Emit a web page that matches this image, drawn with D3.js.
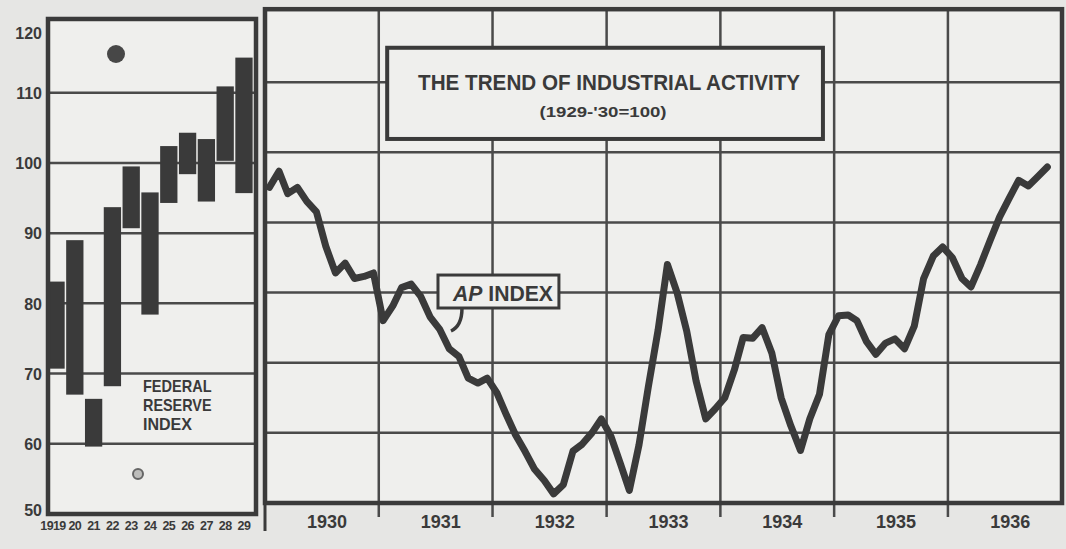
<!DOCTYPE html>
<html>
<head>
<meta charset="utf-8">
<script src="https://cdnjs.cloudflare.com/ajax/libs/d3/7.8.5/d3.min.js"></script>
<style>
body{margin:0;background:#e6e6e4;}
svg{display:block;}
</style>
</head>
<body>
<div id="container"></div>
<script>
// Federal Reserve index, yearly range 1919-1929
var fedYears = ["1919","20","21","22","23","24","25","26","27","28","29"];
var fedLow  = [70.7, 67, 59.6, 68.2, 90.7, 78.4, 94.3, 98.4, 94.5, 100.3, 95.7];
var fedHigh = [83.1, 89, 66.4, 93.7, 99.5, 95.8, 102.4, 104.3, 103.4, 110.9, 115];

// AP index, monthly values
var apYears = ["1930","1931","1932","1933","1934","1935","1936"];
var ap1930 = [95, 97.3, 94.1, 95, 93, 91.5, 86.6, 82.8, 84.2, 82, 82.3, 82.8];
var ap1931 = [76, 78.1, 80.7, 81.2, 79.5, 76.5, 74.8, 72, 70.9, 67.8, 67.1, 67.8];
var ap1932 = [65.7, 62.5, 59.7, 57.3, 54.8, 53.2, 51.3, 52.6, 57.4, 58.4, 60, 62];
var ap1933 = [59.5, 55.5, 51.8, 58.3, 66.6, 74.6, 84, 80, 74.5, 67.4, 62, 63.4];
var ap1934 = [65, 69, 73.6, 73.5, 75, 71.4, 65, 61, 57.5, 62, 65.5, 74];
var ap1935 = [76.7, 76.8, 76, 73, 71.2, 72.8, 73.4, 72, 75.2, 82, 85.2, 86.5];
var ap1936 = [85, 82, 80.8, 84, 87.4, 90.8, 93.4, 96, 95.2, 96.5, 97.9];

var yTicks = [50, 60, 70, 80, 90, 100, 110, 120];
var gridVals = [60, 70, 80, 90, 100, 110];
var fedNote = ["FEDERAL", "RESERVE", "INDEX"];

var ink = "#3a3a3a";
var paper = "#efefed";
var width = 1066, height = 549;

var apData = [];
[ap1930, ap1931, ap1932, ap1933, ap1934, ap1935, ap1936].forEach(function(arr, yi){
	arr.forEach(function(v, mi){
		apData.push({date: new Date(1930 + yi, mi, 15), value: v});
	});
});

var svg = d3.select("#container").append("svg")
	.attr("width", width)
	.attr("height", height)
	.style("font-family", "'Liberation Sans', Arial, sans-serif")
	.style("font-weight", "bold");

// ---------- left panel: Federal Reserve index ----------
var xFed = d3.scaleBand().domain(fedYears).range([47, 253]).paddingInner(0.08).paddingOuter(0.02);
var yFed = d3.scaleLinear().domain([50, 120]).range([514, 22.5]);

var left = svg.append("g").attr("id", "fedPanel");

left.append("rect")
	.attr("x", 48).attr("y", yFed(120.5))
	.attr("width", 256 - 48).attr("height", yFed(50) - yFed(120.5))
	.style("fill", paper);

left.selectAll(".grid").data(gridVals).enter()
	.append("line")
	.attr("class", "grid")
	.attr("x1", 48).attr("x2", 256)
	.attr("y1", function(d){ return yFed(d); })
	.attr("y2", function(d){ return yFed(d); })
	.style("stroke", "#4a4a4a")
	.style("stroke-width", 2.5);

left.selectAll(".bar").data(fedYears).enter()
	.append("rect")
	.attr("class", "bar")
	.attr("x", function(d){ return xFed(d); })
	.attr("width", xFed.bandwidth())
	.attr("y", function(d, i){ return yFed(fedHigh[i]); })
	.attr("height", function(d, i){ return yFed(fedLow[i]) - yFed(fedHigh[i]); })
	.style("fill", ink);

// odd printed dots
left.append("circle").attr("cx", 116).attr("cy", 54).attr("r", 9).style("fill", "#474747");
left.append("circle").attr("cx", 138).attr("cy", 474).attr("r", 5)
	.style("fill", "#bdbdbb").style("stroke", "#666").style("stroke-width", 2);

left.append("rect")
	.attr("x", 48).attr("y", yFed(120.5))
	.attr("width", 256 - 48).attr("height", yFed(50) - yFed(120.5))
	.style("fill", "none")
	.style("stroke", ink)
	.style("stroke-width", 4.5);

left.selectAll(".note").data(fedNote).enter()
	.append("text")
	.attr("class", "note")
	.attr("x", 143)
	.attr("y", function(d, i){ return 392 + i * 19; })
	.attr("textLength", function(d){ return d.length * 9.8; })
	.attr("lengthAdjust", "spacingAndGlyphs")
	.style("font-size", "17px")
	.style("fill", ink)
	.text(function(d){ return d; });

var yAxis = d3.axisLeft(yFed).tickValues(yTicks).tickSize(0).tickPadding(5);
var gy = left.append("g")
	.attr("class", "y axis")
	.attr("transform", "translate(47,0)")
	.call(yAxis);
gy.select(".domain").remove();
gy.selectAll("text")
	.style("font-family", "'Liberation Sans', sans-serif")
	.style("font-weight", "bold")
	.style("font-size", "16px")
	.style("fill", ink)
	.attr("dy", function(d){ return d === 120 ? "1.0em" : d === 50 ? "0.1em" : "0.36em"; });

var xAxisFed = d3.axisBottom(xFed).tickSize(0).tickPadding(7);
var gx = left.append("g")
	.attr("class", "x axis")
	.attr("transform", "translate(0," + yFed(50) + ")")
	.call(xAxisFed);
gx.select(".domain").remove();
gx.selectAll("text")
	.style("font-family", "'Liberation Sans', sans-serif")
	.style("font-weight", "bold")
	.style("font-size", "12.5px")
	.style("letter-spacing", "-0.6px")
	.style("fill", ink)
	.attr("dx", function(d, i){ return i === 0 ? -3 : 0; });

// ---------- right panel: AP index ----------
var xAp = d3.scaleTime().domain([new Date(1930, 0, 1), new Date(1937, 0, 1)]).range([265, 1062]);
var yAp = d3.scaleLinear().domain([50, 120]).range([503, 12]);
var yearStarts = apYears.map(function(y){ return new Date(+y, 0, 1); });
var yearMids = apYears.map(function(y){ return new Date(+y, 6, 1); });

var right = svg.append("g").attr("id", "apPanel");

right.append("rect")
	.attr("x", xAp(new Date(1930, 0, 1))).attr("y", yAp(120.4))
	.attr("width", xAp(new Date(1937, 0, 1)) - xAp(new Date(1930, 0, 1)))
	.attr("height", yAp(50) - yAp(120.4))
	.style("fill", paper);

right.selectAll(".hgrid").data(gridVals).enter()
	.append("line")
	.attr("class", "hgrid")
	.attr("x1", xAp(new Date(1930, 0, 1))).attr("x2", xAp(new Date(1937, 0, 1)))
	.attr("y1", function(d){ return yAp(d); })
	.attr("y2", function(d){ return yAp(d); })
	.style("stroke", "#4a4a4a")
	.style("stroke-width", 2.5);

right.selectAll(".vgrid").data(yearStarts.slice(1)).enter()
	.append("line")
	.attr("class", "vgrid")
	.attr("x1", function(d){ return xAp(d); })
	.attr("x2", function(d){ return xAp(d); })
	.attr("y1", yAp(120.4))
	.attr("y2", yAp(50) + 14)
	.style("stroke", "#4a4a4a")
	.style("stroke-width", 2.5);

// title box
var tb = {x0: xAp(new Date(1931, 0, 28)), x1: xAp(new Date(1934, 10, 26)), y0: yAp(114.9), y1: yAp(101.9)};
right.append("rect")
	.attr("x", tb.x0).attr("y", tb.y0)
	.attr("width", tb.x1 - tb.x0).attr("height", tb.y1 - tb.y0)
	.style("fill", paper)
	.style("stroke", ink)
	.style("stroke-width", 4);
right.append("text")
	.attr("x", (tb.x0 + tb.x1) / 2 + 4).attr("y", tb.y0 + 42)
	.attr("text-anchor", "middle")
	.attr("textLength", 382).attr("lengthAdjust", "spacingAndGlyphs")
	.style("font-size", "22px").style("fill", ink)
	.text("THE TREND OF INDUSTRIAL ACTIVITY");
right.append("text")
	.attr("x", (tb.x0 + tb.x1) / 2 - 2).attr("y", tb.y0 + 69)
	.attr("text-anchor", "middle")
	.attr("textLength", 127).attr("lengthAdjust", "spacingAndGlyphs")
	.style("font-size", "14px").style("fill", ink)
	.text("(1929-'30=100)");

// the index line
var lineFunc = d3.line()
	.x(function(d){ return xAp(d.date); })
	.y(function(d){ return yAp(d.value); });

right.append("path")
	.attr("d", lineFunc(apData))
	.style("fill", "none")
	.style("stroke", ink)
	.style("stroke-width", 7)
	.style("stroke-linejoin", "round")
	.style("stroke-linecap", "round");

// AP INDEX label
var ab = {x0: xAp(new Date(1931, 6, 10)), x1: xAp(new Date(1932, 7, 1)), y0: yAp(82.5), y1: yAp(77.8)};
right.append("path")
	.attr("d", "M" + (ab.x0 + 24) + "," + ab.y1 + " Q" + (ab.x0 + 24) + "," + (ab.y1 + 18) + " " + (ab.x0 + 13) + "," + (ab.y1 + 23))
	.style("fill", "none")
	.style("stroke", ink)
	.style("stroke-width", 3.5);
right.append("rect")
	.attr("x", ab.x0).attr("y", ab.y0)
	.attr("width", ab.x1 - ab.x0).attr("height", ab.y1 - ab.y0)
	.style("fill", paper)
	.style("stroke", ink)
	.style("stroke-width", 3);
var apText = right.append("text")
	.attr("x", ab.x0 + 15).attr("y", ab.y1 - 7)
	.attr("textLength", 100).attr("lengthAdjust", "spacingAndGlyphs")
	.style("font-size", "22px").style("fill", ink);
apText.append("tspan").style("font-style", "italic").text("AP");
apText.append("tspan").text(" INDEX");

// frame
right.append("rect")
	.attr("x", xAp(new Date(1930, 0, 1))).attr("y", yAp(120.4))
	.attr("width", xAp(new Date(1937, 0, 1)) - xAp(new Date(1930, 0, 1)))
	.attr("height", yAp(50) - yAp(120.4))
	.style("fill", "none")
	.style("stroke", ink)
	.style("stroke-width", 4.5);
right.append("line")
	.attr("x1", xAp(new Date(1930, 0, 1))).attr("x2", xAp(new Date(1930, 0, 1)))
	.attr("y1", yAp(50)).attr("y2", yAp(50) + 28)
	.style("stroke", ink).style("stroke-width", 3);

var xAxisAp = d3.axisBottom(xAp).tickValues(yearMids)
	.tickFormat(function(d, i){ return apYears[i]; })
	.tickSize(0).tickPadding(12);
var gxa = right.append("g")
	.attr("class", "x axis")
	.attr("transform", "translate(5," + yAp(50) + ")")
	.call(xAxisAp);
gxa.select(".domain").remove();
gxa.selectAll("text")
	.style("font-family", "'Liberation Sans', sans-serif")
	.style("font-weight", "bold")
	.style("font-size", "18px")
	.style("fill", ink);
</script>
</body>
</html>
